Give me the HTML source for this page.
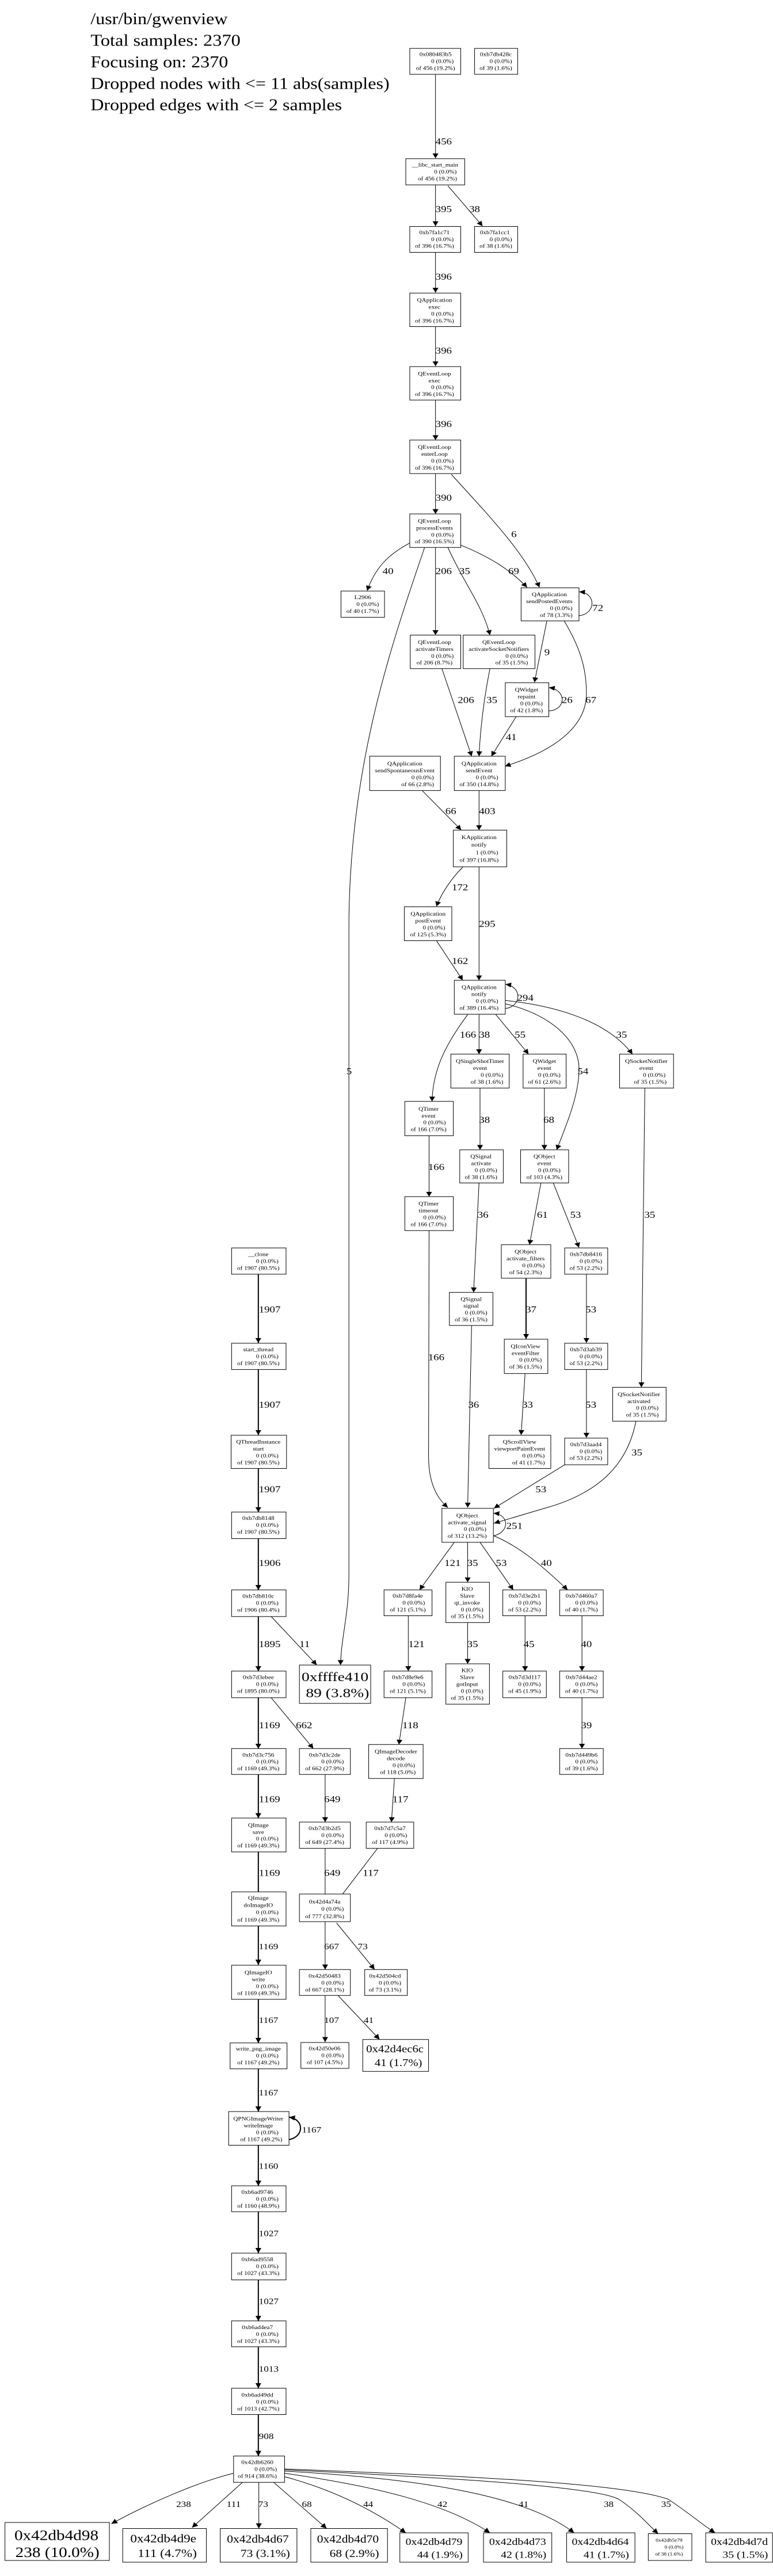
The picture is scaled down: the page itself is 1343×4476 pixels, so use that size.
<!DOCTYPE html>
<html><head><meta charset="utf-8"><style>
html,body{margin:0;padding:0;background:#fff}
svg{display:block}
text{font-family:"Liberation Serif",serif;fill:#000}
.n text{font-size:13px;text-anchor:middle}
rect{fill:#fff;stroke:#000;vector-effect:non-scaling-stroke;stroke-width:1}
.e{fill:none;stroke:#000;vector-effect:non-scaling-stroke;stroke-width:1}
.t{stroke-width:2}
.l{font-size:22px}
.l4{font-size:20px}
</style></head><body>
<svg width="1343" height="4476" viewBox="0 0 1343 4476" xmlns="http://www.w3.org/2000/svg">
<defs><marker id="a" viewBox="0 0 10 10" refX="10" refY="5" markerWidth="12" markerHeight="16" markerUnits="userSpaceOnUse" orient="auto"><path d="M0,0 L10,5 L0,10 z" fill="#000"/></marker></defs>

<!-- ZONE 1 -->
<g transform="matrix(0.8598 0 0 0.7015 0 0)">
<g style="font-size:40px">
<text x="183" y="60" textLength="277" lengthAdjust="spacingAndGlyphs">/usr/bin/gwenview</text>
<text x="183" y="113" textLength="303" lengthAdjust="spacingAndGlyphs">Total samples: 2370</text>
<text x="183" y="167" textLength="278" lengthAdjust="spacingAndGlyphs">Focusing on: 2370</text>
<text x="183" y="220" textLength="604" lengthAdjust="spacingAndGlyphs">Dropped nodes with &lt;= 11 abs(samples)</text>
<text x="183" y="273" textLength="508" lengthAdjust="spacingAndGlyphs">Dropped edges with &lt;= 2 samples</text>
</g>
<g marker-end="url(#a)">
<path class="e" d="M880,184 L880,392"/>
<path class="e" d="M880,458 L880,560"/>
<path class="e" d="M905,460 L975,560"/>
<path class="e" d="M880,625 L880,725"/>
<path class="e" d="M880,809 L880,907"/>
<path class="e" d="M880,991 L880,1090"/>
<path class="e" d="M880,1173 L880,1273"/>
<path class="e" d="M912,1175 C990,1280 1060,1370 1090,1455"/>
<path class="e" d="M828,1345 C790,1370 760,1400 742,1463"/>
<path class="e" d="M858,1356 C790,1600 705,1900 705,2300 L705,3900 C705,4000 690,4050 688,4124"/>
<path class="e" d="M880,1356 L880,1573"/>
<path class="e" d="M905,1356 C940,1450 975,1500 990,1573"/>
<path class="e" d="M931,1350 C990,1380 1030,1410 1065,1455"/>
<path class="e" d="M1170,1525 C1205,1520 1205,1468 1170,1466"/>
<path class="e" d="M1105,1538 L1080,1690"/>
<path class="e" d="M1140,1538 C1170,1600 1185,1650 1185,1718 C1185,1800 1120,1860 1020,1898"/>
</g>
<g class="l">
<text class="l" x="880" y="358">456</text>
<text class="l" x="880" y="525">395</text>
<text class="l" x="948" y="525">38</text>
<text class="l" x="880" y="693">396</text>
<text class="l" x="880" y="876">396</text>
<text class="l" x="880" y="1058">396</text>
<text class="l" x="880" y="1240">390</text>
<text class="l" x="1033" y="1331">6</text>
<text class="l" x="773" y="1422">40</text>
<text class="l" x="880" y="1422">206</text>
<text class="l" x="928" y="1422">35</text>
<text class="l" x="1027" y="1422">69</text>
<text class="l" x="1197" y="1513">72</text>
</g>
<g class="n">
<rect x="828" y="120" width="103" height="64"/><text><tspan x="880" y="139">0x080483b5</tspan><tspan x="894" y="156">0 (0.0%)</tspan><tspan x="880" y="173">of 456 (19.2%)</tspan></text>
<rect x="959" y="120" width="87" height="64"/><text><tspan x="1002" y="139">0xb7db428c</tspan><tspan x="1012" y="156">0 (0.0%)</tspan><tspan x="1002" y="173">of 39 (1.6%)</tspan></text>
<rect x="820" y="393" width="119" height="65"/><text><tspan x="879" y="413">__libc_start_main</tspan><tspan x="900" y="430">0 (0.0%)</tspan><tspan x="884" y="447">of 456 (19.2%)</tspan></text>
<rect x="828" y="561" width="103" height="64"/><text><tspan x="878" y="580">0xb7fa1c71</tspan><tspan x="894" y="597">0 (0.0%)</tspan><tspan x="878" y="614">of 396 (16.7%)</tspan></text>
<rect x="959" y="561" width="87" height="64"/><text><tspan x="1000" y="580">0xb7fa1cc1</tspan><tspan x="1012" y="597">0 (0.0%)</tspan><tspan x="1002" y="614">of 38 (1.6%)</tspan></text>
<rect x="828" y="726" width="103" height="83"/><text><tspan x="878" y="748">QApplication</tspan><tspan x="878" y="765">exec</tspan><tspan x="894" y="782">0 (0.0%)</tspan><tspan x="878" y="799">of 396 (16.7%)</tspan></text>
<rect x="828" y="908" width="103" height="83"/><text><tspan x="878" y="930">QEventLoop</tspan><tspan x="878" y="947">exec</tspan><tspan x="894" y="964">0 (0.0%)</tspan><tspan x="878" y="981">of 396 (16.7%)</tspan></text>
<rect x="828" y="1090" width="103" height="83"/><text><tspan x="878" y="1112">QEventLoop</tspan><tspan x="878" y="1129">enterLoop</tspan><tspan x="894" y="1146">0 (0.0%)</tspan><tspan x="878" y="1163">of 396 (16.7%)</tspan></text>
<rect x="828" y="1273" width="103" height="83"/><text><tspan x="878" y="1295">QEventLoop</tspan><tspan x="878" y="1312">processEvents</tspan><tspan x="894" y="1329">0 (0.0%)</tspan><tspan x="878" y="1346">of 390 (16.5%)</tspan></text>
<rect x="689" y="1464" width="88" height="65"/><text><tspan x="733" y="1484">L2906</tspan><tspan x="743" y="1501">0 (0.0%)</tspan><tspan x="733" y="1518">of 40 (1.7%)</tspan></text>
<rect x="1053" y="1456" width="117" height="82"/><text><tspan x="1110" y="1477">QApplication</tspan><tspan x="1110" y="1494">sendPostedEvents</tspan><tspan x="1134" y="1511">0 (0.0%)</tspan><tspan x="1124" y="1528">of 78 (3.3%)</tspan></text>
</g>
</g>

<!-- ZONE 2 -->
<g transform="matrix(0.8598 0 0 0.7015 0 1100)">
<g marker-end="url(#a)">
<path class="e" d="M893,88 L953,305"/>
<path class="e" d="M990,88 C975,180 970,250 968,305"/>
<path class="e" d="M1109,193 C1145,190 1145,140 1109,135"/>
<path class="e" d="M1043,207 L993,305"/>
<path class="e" d="M853,390 L932,488"/>
<path class="e" d="M968,390 L968,488"/>
<path class="e" d="M935,580 C910,610 890,650 882,677"/>
<path class="e" d="M968,580 L968,860"/>
<path class="e" d="M882,762 L935,860"/>
<path class="e" d="M1021,930 C1055,925 1055,875 1021,870"/>
<path class="e" d="M945,945 C900,1020 875,1080 873,1160"/>
<path class="e" d="M968,945 L968,1043"/>
<path class="e" d="M1002,945 L1068,1043"/>
<path class="e" d="M1020,918 C1100,940 1170,1000 1170,1080 C1170,1150 1140,1230 1125,1280"/>
<path class="e" d="M1021,910 C1100,920 1220,950 1278,1043"/>
<path class="e" d="M970,1127 L970,1280"/>
<path class="e" d="M1100,1127 L1100,1280"/>
<path class="e" d="M867,1245 L867,1396"/>
<path class="e" d="M968,1362 L957,1633"/>
<path class="e" d="M1093,1362 L1070,1515"/>
<path class="e" d="M1118,1362 L1170,1522"/>
<path class="e" d="M1303,1127 L1296,1868"/>
<path class="e" d="M867,1480 L866,2038 C866,2100 880,2140 905,2166"/>
</g>
<g>
<text class="l" x="925" y="173">206</text>
<text class="l" x="983" y="173">35</text>
<text class="l" x="1100" y="55">9</text>
<text class="l" x="1135" y="173">26</text>
<text class="l" x="1183" y="173">67</text>
<text class="l" x="1022" y="265">41</text>
<text class="l" x="900" y="448">66</text>
<text class="l" x="968" y="448">403</text>
<text class="l" x="913" y="637">172</text>
<text class="l" x="968" y="728">295</text>
<text class="l" x="913" y="820">162</text>
<text class="l" x="1045" y="911">294</text>
<text class="l" x="929" y="1002">166</text>
<text class="l" x="968" y="1002">38</text>
<text class="l" x="1040" y="1002">55</text>
<text class="l" x="1245" y="1002">35</text>
<text class="l" x="700" y="1093">5</text>
<text class="l" x="1167" y="1093">54</text>
<text class="l" x="968" y="1213">38</text>
<text class="l" x="1098" y="1213">68</text>
<text class="l" x="865" y="1330">166</text>
<text class="l" x="965" y="1448">36</text>
<text class="l" x="1085" y="1448">61</text>
<text class="l" x="1152" y="1448">53</text>
<text class="l" x="1302" y="1448">35</text>
</g>
<g class="n">
<rect x="829" y="5" width="102" height="83"/><text><tspan x="878" y="27">QEventLoop</tspan><tspan x="878" y="44">activateTimers</tspan><tspan x="894" y="61">0 (0.0%)</tspan><tspan x="878" y="78">of 206 (8.7%)</tspan></text>
<rect x="936" y="5" width="145" height="83"/><text><tspan x="1008" y="27">QEventLoop</tspan><tspan x="1008" y="44">activateSocketNotifiers</tspan><tspan x="1044" y="61">0 (0.0%)</tspan><tspan x="1034" y="78">of 35 (1.5%)</tspan></text>
<rect x="1021" y="123" width="88" height="84"/><text><tspan x="1064" y="145">QWidget</tspan><tspan x="1064" y="162">repaint</tspan><tspan x="1074" y="179">0 (0.0%)</tspan><tspan x="1064" y="196">of 42 (1.8%)</tspan></text>
<rect x="747" y="305" width="143" height="85"/><text><tspan x="818" y="328">QApplication</tspan><tspan x="818" y="345">sendSpontaneousEvent</tspan><tspan x="854" y="362">0 (0.0%)</tspan><tspan x="844" y="379">of 66 (2.8%)</tspan></text>
<rect x="918" y="305" width="103" height="85"/><text><tspan x="968" y="328">QApplication</tspan><tspan x="968" y="345">sendEvent</tspan><tspan x="984" y="362">0 (0.0%)</tspan><tspan x="968" y="379">of 350 (14.8%)</tspan></text>
<rect x="916" y="488" width="108" height="91"/><text><tspan x="968" y="510">KApplication</tspan><tspan x="968" y="529">notify</tspan><tspan x="984" y="548">1 (0.0%)</tspan><tspan x="968" y="567">of 397 (16.8%)</tspan></text>
<rect x="817" y="678" width="96" height="84"/><text><tspan x="865" y="700">QApplication</tspan><tspan x="865" y="717">postEvent</tspan><tspan x="877" y="734">0 (0.0%)</tspan><tspan x="865" y="751">of 125 (5.3%)</tspan></text>
<rect x="918" y="860" width="103" height="84"/><text><tspan x="968" y="882">QApplication</tspan><tspan x="968" y="899">notify</tspan><tspan x="984" y="916">0 (0.0%)</tspan><tspan x="968" y="933">of 389 (16.4%)</tspan></text>
<rect x="911" y="1043" width="118" height="84"/><text><tspan x="970" y="1065">QSingleShotTimer</tspan><tspan x="970" y="1082">event</tspan><tspan x="994" y="1099">0 (0.0%)</tspan><tspan x="984" y="1116">of 38 (1.6%)</tspan></text>
<rect x="1057" y="1043" width="87" height="84"/><text><tspan x="1100" y="1065">QWidget</tspan><tspan x="1100" y="1082">event</tspan><tspan x="1110" y="1099">0 (0.0%)</tspan><tspan x="1100" y="1116">of 61 (2.6%)</tspan></text>
<rect x="1252" y="1043" width="109" height="84"/><text><tspan x="1306" y="1065">QSocketNotifier</tspan><tspan x="1306" y="1082">event</tspan><tspan x="1322" y="1099">0 (0.0%)</tspan><tspan x="1314" y="1116">of 35 (1.5%)</tspan></text>
<rect x="818" y="1160" width="98" height="85"/><text><tspan x="866" y="1183">QTimer</tspan><tspan x="866" y="1200">event</tspan><tspan x="878" y="1217">0 (0.0%)</tspan><tspan x="866" y="1234">of 166 (7.0%)</tspan></text>
<rect x="929" y="1280" width="88" height="82"/><text><tspan x="972" y="1301">QSignal</tspan><tspan x="972" y="1318">activate</tspan><tspan x="982" y="1335">0 (0.0%)</tspan><tspan x="972" y="1352">of 38 (1.6%)</tspan></text>
<rect x="1052" y="1280" width="97" height="82"/><text><tspan x="1100" y="1301">QObject</tspan><tspan x="1100" y="1318">event</tspan><tspan x="1110" y="1335">0 (0.0%)</tspan><tspan x="1100" y="1352">of 103 (4.3%)</tspan></text>
<rect x="818" y="1396" width="98" height="84"/><text><tspan x="866" y="1418">QTimer</tspan><tspan x="866" y="1435">timeout</tspan><tspan x="878" y="1452">0 (0.0%)</tspan><tspan x="866" y="1469">of 166 (7.0%)</tspan></text>
<rect x="1013" y="1515" width="100" height="83"/><text><tspan x="1062" y="1537">QObject</tspan><tspan x="1062" y="1554">activate_filters</tspan><tspan x="1078" y="1571">0 (0.0%)</tspan><tspan x="1062" y="1588">of 54 (2.3%)</tspan></text>
<rect x="1141" y="1523" width="87" height="65"/><text><tspan x="1184" y="1543">0xb7db8416</tspan><tspan x="1194" y="1560">0 (0.0%)</tspan><tspan x="1184" y="1577">of 53 (2.2%)</tspan></text>
<rect x="468" y="1523" width="110" height="65"/><text><tspan x="522" y="1543">__clone</tspan><tspan x="540" y="1560">0 (0.0%)</tspan><tspan x="522" y="1577">of 1907 (80.5%)</tspan></text>
</g>
</g>

<!-- ZONE 3 -->
<g transform="matrix(0.8598 0 0 0.7015 0 2200)">
<g marker-end="url(#a)">
<path class="e t" d="M522,20 L522,190"/>
<path class="e t" d="M522,256 L522,418"/>
<path class="e t" d="M522,501 L522,609"/>
<path class="e t" d="M522,675 L522,802"/>
<path class="e t" d="M522,868 L522,1003"/>
<path class="e" d="M548,868 L640,988"/>
<path class="e t" d="M522,1069 L522,1195"/>
<path class="e" d="M548,1069 L633,1195"/>
<path class="e t" d="M522,1259 L522,1367"/>
<path class="e" d="M657,1259 L657,1377"/>
<path class="e t" d="M522,1451 L522,1575"/>
<path class="e" d="M657,1442 L657,1575"/>
<path class="e" d="M763,1442 L680,1575"/>
<path class="e t" d="M1063,30 L1063,180"/>
<path class="e" d="M1185,20 L1185,190"/>
<path class="e" d="M953,147 L945,598"/>
<path class="e" d="M1061,266 L1053,418"/>
<path class="e" d="M1185,256 L1185,425"/>
<path class="e" d="M1285,384 C1270,480 1220,560 1100,600 L998,637"/>
<path class="e" d="M1141,492 L998,600"/>
<path class="e" d="M997,668 C1030,660 1030,615 997,612"/>
<path class="e" d="M918,684 L848,802"/>
<path class="e" d="M945,684 L945,783"/>
<path class="e" d="M970,684 L1037,802"/>
<path class="e" d="M998,668 C1060,700 1110,760 1147,802"/>
<path class="e" d="M825,866 L825,1003"/>
<path class="e" d="M945,883 L945,985"/>
<path class="e" d="M1061,866 L1061,1003"/>
<path class="e" d="M1176,866 L1176,1003"/>
<path class="e" d="M820,1069 L806,1185"/>
<path class="e" d="M1176,1069 L1176,1195"/>
<path class="e" d="M797,1269 L791,1377"/>
</g>
<g>
<text class="l" x="523" y="115">1907</text>
<text class="l" x="865" y="233">166</text>
<text class="l" x="1062" y="115">37</text>
<text class="l" x="1183" y="115">53</text>
<text class="l" x="523" y="351">1907</text>
<text class="l" x="946" y="351">36</text>
<text class="l" x="1055" y="351">33</text>
<text class="l" x="1183" y="351">53</text>
<text class="l" x="1276" y="469">35</text>
<text class="l" x="523" y="560">1907</text>
<text class="l" x="1082" y="560">53</text>
<text class="l" x="1023" y="651">251</text>
<text class="l" x="523" y="743">1906</text>
<text class="l" x="898" y="743">121</text>
<text class="l" x="944" y="743">35</text>
<text class="l" x="1002" y="743">53</text>
<text class="l" x="1093" y="743">40</text>
<text class="l" x="523" y="944">1895</text>
<text class="l" x="605" y="944">11</text>
<text class="l" x="825" y="944">121</text>
<text class="l" x="944" y="944">35</text>
<text class="l" x="1058" y="944">45</text>
<text class="l" x="1174" y="944">40</text>
<text class="l" x="523" y="1145">1169</text>
<text class="l" x="598" y="1145">662</text>
<text class="l" x="813" y="1145">118</text>
<text class="l" x="1174" y="1145">39</text>
<text class="l" x="523" y="1328">1169</text>
<text class="l" x="655" y="1328">649</text>
<text class="l" x="793" y="1328">117</text>
<text class="l" x="523" y="1510">1169</text>
<text class="l" x="655" y="1510">649</text>
<text class="l" x="733" y="1510">117</text>
</g>
<g class="n">
<rect x="468" y="191" width="110" height="65"/><text><tspan x="522" y="211">start_thread</tspan><tspan x="540" y="228">0 (0.0%)</tspan><tspan x="522" y="245">of 1907 (80.5%)</tspan></text>
<rect x="467" y="419" width="112" height="82"/><text><tspan x="522" y="440">QThreadInstance</tspan><tspan x="522" y="457">start</tspan><tspan x="540" y="474">0 (0.0%)</tspan><tspan x="522" y="491">of 1907 (80.5%)</tspan></text>
<rect x="468" y="609" width="110" height="66"/><text><tspan x="522" y="629">0xb7db8148</tspan><tspan x="540" y="646">0 (0.0%)</tspan><tspan x="522" y="663">of 1907 (80.5%)</tspan></text>
<rect x="468" y="802" width="110" height="66"/><text><tspan x="522" y="822">0xb7db810c</tspan><tspan x="540" y="839">0 (0.0%)</tspan><tspan x="522" y="856">of 1906 (80.4%)</tspan></text>
<rect x="605" y="988" width="144" height="95"/><text style="font-size:32px"><tspan x="677" y="1028">0xffffe410</tspan><tspan x="682" y="1068">89 (3.8%)</tspan></text>
<rect x="468" y="1003" width="110" height="66"/><text><tspan x="522" y="1023">0xb7d3ebee</tspan><tspan x="540" y="1040">0 (0.0%)</tspan><tspan x="522" y="1057">of 1895 (80.0%)</tspan></text>
<rect x="468" y="1195" width="110" height="64"/><text><tspan x="522" y="1215">0xb7d3c756</tspan><tspan x="540" y="1232">0 (0.0%)</tspan><tspan x="522" y="1249">of 1169 (49.3%)</tspan></text>
<rect x="605" y="1195" width="103" height="64"/><text><tspan x="656" y="1215">0xb7d3c2de</tspan><tspan x="672" y="1232">0 (0.0%)</tspan><tspan x="656" y="1249">of 662 (27.9%)</tspan></text>
<rect x="468" y="1367" width="110" height="84"/><text><tspan x="522" y="1389">QImage</tspan><tspan x="522" y="1406">save</tspan><tspan x="540" y="1423">0 (0.0%)</tspan><tspan x="522" y="1440">of 1169 (49.3%)</tspan></text>
<rect x="605" y="1377" width="103" height="65"/><text><tspan x="656" y="1397">0xb7d3b2d5</tspan><tspan x="672" y="1414">0 (0.0%)</tspan><tspan x="656" y="1431">of 649 (27.4%)</tspan></text>
<rect x="908" y="65" width="88" height="82"/><text><tspan x="952" y="86">QSignal</tspan><tspan x="952" y="103">signal</tspan><tspan x="962" y="120">0 (0.0%)</tspan><tspan x="952" y="137">of 36 (1.5%)</tspan></text>
<rect x="1019" y="181" width="88" height="85"/><text><tspan x="1062" y="203">QIconView</tspan><tspan x="1062" y="220">eventFilter</tspan><tspan x="1072" y="237">0 (0.0%)</tspan><tspan x="1062" y="254">of 36 (1.5%)</tspan></text>
<rect x="1141" y="191" width="87" height="65"/><text><tspan x="1184" y="211">0xb7d3ab39</tspan><tspan x="1194" y="228">0 (0.0%)</tspan><tspan x="1184" y="245">of 53 (2.2%)</tspan></text>
<rect x="1238" y="300" width="108" height="84"/><text><tspan x="1291" y="322">QSocketNotifier</tspan><tspan x="1291" y="339">activated</tspan><tspan x="1308" y="356">0 (0.0%)</tspan><tspan x="1298" y="373">of 35 (1.5%)</tspan></text>
<rect x="988" y="419" width="125" height="82"/><text><tspan x="1050" y="440">QScrollView</tspan><tspan x="1050" y="457">viewportPaintEvent</tspan><tspan x="1078" y="474">0 (0.0%)</tspan><tspan x="1068" y="491">of 41 (1.7%)</tspan></text>
<rect x="1141" y="426" width="87" height="66"/><text><tspan x="1184" y="446">0xb7d3aad4</tspan><tspan x="1194" y="463">0 (0.0%)</tspan><tspan x="1184" y="480">of 53 (2.2%)</tspan></text>
<rect x="893" y="600" width="104" height="84"/><text><tspan x="944" y="622">QObject</tspan><tspan x="944" y="639">activate_signal</tspan><tspan x="960" y="656">0 (0.0%)</tspan><tspan x="944" y="673">of 312 (13.2%)</tspan></text>
<rect x="776" y="802" width="97" height="64"/><text><tspan x="824" y="821">0xb7d8fa4e</tspan><tspan x="836" y="838">0 (0.0%)</tspan><tspan x="824" y="855">of 121 (5.1%)</tspan></text>
<rect x="901" y="783" width="88" height="100"/><text><tspan x="944" y="804">KIO</tspan><tspan x="944" y="821">Slave</tspan><tspan x="944" y="838">qt_invoke</tspan><tspan x="954" y="855">0 (0.0%)</tspan><tspan x="944" y="872">of 35 (1.5%)</tspan></text>
<rect x="1016" y="802" width="88" height="64"/><text><tspan x="1060" y="821">0xb7d3e2b1</tspan><tspan x="1070" y="838">0 (0.0%)</tspan><tspan x="1060" y="855">of 53 (2.2%)</tspan></text>
<rect x="1131" y="802" width="88" height="64"/><text><tspan x="1175" y="821">0xb7d460a7</tspan><tspan x="1185" y="838">0 (0.0%)</tspan><tspan x="1175" y="855">of 40 (1.7%)</tspan></text>
<rect x="776" y="1003" width="97" height="66"/><text><tspan x="824" y="1023">0xb7d8e9e6</tspan><tspan x="836" y="1040">0 (0.0%)</tspan><tspan x="824" y="1057">of 121 (5.1%)</tspan></text>
<rect x="901" y="985" width="88" height="100"/><text><tspan x="944" y="1006">KIO</tspan><tspan x="944" y="1023">Slave</tspan><tspan x="944" y="1040">gotInput</tspan><tspan x="954" y="1057">0 (0.0%)</tspan><tspan x="944" y="1074">of 35 (1.5%)</tspan></text>
<rect x="1016" y="1003" width="88" height="66"/><text><tspan x="1060" y="1023">0xb7d3d117</tspan><tspan x="1070" y="1040">0 (0.0%)</tspan><tspan x="1060" y="1057">of 45 (1.9%)</tspan></text>
<rect x="1131" y="1003" width="88" height="66"/><text><tspan x="1175" y="1023">0xb7d44ae2</tspan><tspan x="1185" y="1040">0 (0.0%)</tspan><tspan x="1175" y="1057">of 40 (1.7%)</tspan></text>
<rect x="745" y="1185" width="110" height="84"/><text><tspan x="800" y="1207">QImageDecoder</tspan><tspan x="800" y="1224">decode</tspan><tspan x="816" y="1241">0 (0.0%)</tspan><tspan x="804" y="1258">of 118 (5.0%)</tspan></text>
<rect x="1131" y="1195" width="88" height="64"/><text><tspan x="1175" y="1215">0xb7d449b6</tspan><tspan x="1185" y="1232">0 (0.0%)</tspan><tspan x="1175" y="1249">of 39 (1.6%)</tspan></text>
<rect x="740" y="1377" width="96" height="65"/><text><tspan x="788" y="1397">0xb7d7c5a7</tspan><tspan x="800" y="1414">0 (0.0%)</tspan><tspan x="788" y="1431">of 117 (4.9%)</tspan></text>
</g>
</g>

<!-- ZONE 4 -->
<g transform="matrix(0.8598 0 0 0.75 0 3300)">
<g marker-end="url(#a)">
<path class="e t" d="M522,62 L522,152"/>
<path class="e" d="M657,52 L657,163"/>
<path class="e" d="M680,55 L757,163"/>
<path class="e t" d="M522,232 L522,333"/>
<path class="e" d="M657,223 L657,331"/>
<path class="e" d="M683,223 L767,325"/>
<path class="e t" d="M522,393 L522,492"/>
<path class="e t" d="M584,557 C615,550 615,510 584,505"/>
<path class="e t" d="M522,570 L522,664"/>
<path class="e t" d="M522,724 L522,820"/>
<path class="e t" d="M522,882 L522,977"/>
<path class="e t" d="M522,1037 L522,1133"/>
<path class="e t" d="M522,1194 L522,1290"/>
<path class="e" d="M472,1330 C400,1350 300,1400 225,1447"/>
<path class="e" d="M490,1351 L388,1456"/>
<path class="e" d="M523,1351 L523,1458"/>
<path class="e" d="M553,1351 L660,1458"/>
<path class="e" d="M575,1338 C680,1370 760,1420 820,1468"/>
<path class="e" d="M575,1330 C760,1360 900,1400 990,1468"/>
<path class="e" d="M575,1325 C800,1340 1050,1370 1160,1468"/>
<path class="e" d="M575,1322 C900,1340 1200,1360 1250,1390 C1290,1420 1310,1450 1330,1470"/>
<path class="e" d="M575,1320 C900,1335 1250,1350 1350,1390 C1390,1420 1420,1450 1445,1468"/>
</g>
<g class="l4">
<text class="l4" x="523" y="116">1169</text>
<text class="l4" x="655" y="116">667</text>
<text class="l4" x="723" y="116">73</text>
<text class="l4" x="523" y="287">1167</text>
<text class="l4" x="655" y="287">107</text>
<text class="l4" x="735" y="287">41</text>
<text class="l4" x="523" y="455">1167</text>
<text class="l4" x="610" y="541">1167</text>
<text class="l4" x="523" y="625">1160</text>
<text class="l4" x="523" y="781">1027</text>
<text class="l4" x="523" y="938">1027</text>
<text class="l4" x="523" y="1095">1013</text>
<text class="l4" x="523" y="1251">908</text>
<text class="l4" x="356" y="1408">238</text>
<text class="l4" x="458" y="1408">111</text>
<text class="l4" x="522" y="1408">73</text>
<text class="l4" x="610" y="1408">68</text>
<text class="l4" x="734" y="1408">44</text>
<text class="l4" x="884" y="1408">42</text>
<text class="l4" x="1048" y="1408">41</text>
<text class="l4" x="1220" y="1408">38</text>
<text class="l4" x="1336" y="1408">35</text>
</g>
<g class="n">
<rect x="468" y="-17" width="110" height="79"/><text><tspan x="522" y="1">QImage</tspan><tspan x="522" y="18">doImageIO</tspan><tspan x="540" y="35">0 (0.0%)</tspan><tspan x="522" y="52">of 1169 (49.3%)</tspan></text>
<rect x="605" y="-12" width="103" height="64"/><text><tspan x="656" y="10">0x42d4a74a</tspan><tspan x="672" y="27">0 (0.0%)</tspan><tspan x="656" y="44">of 777 (32.8%)</tspan></text>
<rect x="468" y="153" width="110" height="79"/><text><tspan x="522" y="174">QImageIO</tspan><tspan x="522" y="190">write</tspan><tspan x="540" y="206">0 (0.0%)</tspan><tspan x="522" y="222">of 1169 (49.3%)</tspan></text>
<rect x="605" y="163" width="103" height="60"/><text><tspan x="656" y="182">0x42d50483</tspan><tspan x="672" y="198">0 (0.0%)</tspan><tspan x="656" y="214">of 667 (28.1%)</tspan></text>
<rect x="737" y="163" width="86" height="60"/><text><tspan x="778" y="182">0x42d504cd</tspan><tspan x="788" y="198">0 (0.0%)</tspan><tspan x="778" y="214">of 73 (3.1%)</tspan></text>
<rect x="465" y="333" width="115" height="60"/><text><tspan x="522" y="351">write_png_image</tspan><tspan x="540" y="367">0 (0.0%)</tspan><tspan x="522" y="383">of 1167 (49.2%)</tspan></text>
<rect x="608" y="332" width="97" height="60"/><text><tspan x="656" y="350">0x42d50e06</tspan><tspan x="672" y="366">0 (0.0%)</tspan><tspan x="656" y="382">of 107 (4.5%)</tspan></text>
<rect x="733" y="325" width="133" height="74"/><text style="font-size:24px"><tspan x="798" y="355">0x42d4ec6c</tspan><tspan x="805" y="387">41 (1.7%)</tspan></text>
<rect x="462" y="492" width="122" height="78"/><text><tspan x="522" y="513">QPNGImageWriter</tspan><tspan x="522" y="529">writeImage</tspan><tspan x="540" y="545">0 (0.0%)</tspan><tspan x="528" y="561">of 1167 (49.2%)</tspan></text>
<rect x="468" y="664" width="110" height="60"/><text><tspan x="520" y="683">0xb6ad9746</tspan><tspan x="540" y="699">0 (0.0%)</tspan><tspan x="522" y="715">of 1160 (48.9%)</tspan></text>
<rect x="468" y="820" width="110" height="62"/><text><tspan x="520" y="839">0xb6ad9558</tspan><tspan x="540" y="855">0 (0.0%)</tspan><tspan x="522" y="871">of 1027 (43.3%)</tspan></text>
<rect x="468" y="977" width="110" height="60"/><text><tspan x="520" y="996">0xb6ad4ea7</tspan><tspan x="540" y="1012">0 (0.0%)</tspan><tspan x="522" y="1028">of 1027 (43.3%)</tspan></text>
<rect x="468" y="1133" width="110" height="61"/><text><tspan x="520" y="1153">0xb6ad49dd</tspan><tspan x="540" y="1169">0 (0.0%)</tspan><tspan x="522" y="1185">of 1013 (42.7%)</tspan></text>
<rect x="472" y="1290" width="103" height="61"/><text><tspan x="520" y="1309">0x42db6260</tspan><tspan x="537" y="1325">0 (0.0%)</tspan><tspan x="520" y="1341">of 914 (38.6%)</tspan></text>
<rect x="10" y="1444" width="211" height="88"/><text style="font-size:34px"><tspan x="114" y="1485">0x42db4d98</tspan><tspan x="116" y="1524">238 (10.0%)</tspan></text>
<rect x="248" y="1458" width="169" height="78"/><text style="font-size:27px"><tspan x="330" y="1490">0x42db4d9e</tspan><tspan x="338" y="1524">111 (4.7%)</tspan></text>
<rect x="445" y="1458" width="155" height="78"/><text style="font-size:25px"><tspan x="521" y="1491">0x42db4d67</tspan><tspan x="536" y="1524">73 (3.1%)</tspan></text>
<rect x="628" y="1458" width="155" height="78"/><text style="font-size:25px"><tspan x="703" y="1491">0x42db4d70</tspan><tspan x="716" y="1524">68 (2.9%)</tspan></text>
<rect x="808" y="1468" width="138" height="68"/><text style="font-size:23px"><tspan x="877" y="1496">0x42db4d79</tspan><tspan x="889" y="1526">44 (1.9%)</tspan></text>
<rect x="977" y="1468" width="138" height="68"/><text style="font-size:23px"><tspan x="1046" y="1496">0x42db4d73</tspan><tspan x="1058" y="1526">42 (1.8%)</tspan></text>
<rect x="1145" y="1468" width="138" height="68"/><text style="font-size:23px"><tspan x="1213" y="1496">0x42db4d64</tspan><tspan x="1225" y="1526">41 (1.7%)</tspan></text>
<rect x="1310" y="1470" width="88" height="62"/><text style="font-size:11px"><tspan x="1352" y="1489">0x42db5e79</tspan><tspan x="1362" y="1505">0 (0.0%)</tspan><tspan x="1352" y="1521">of 38 (1.6%)</tspan></text>
<rect x="1426" y="1468" width="135" height="68"/><text style="font-size:23px"><tspan x="1494" y="1496">0x42db4d7d</tspan><tspan x="1506" y="1526">35 (1.5%)</tspan></text>
</g>
</g>
</svg>
</body></html>
